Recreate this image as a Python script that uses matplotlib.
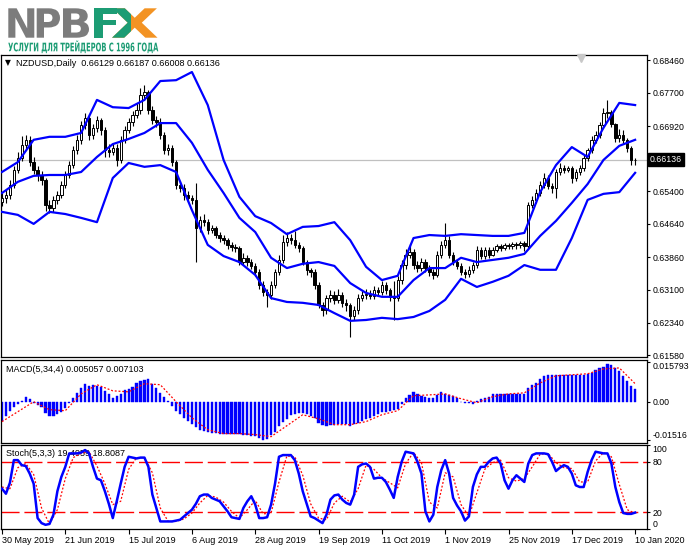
import numpy as np
import matplotlib.pyplot as plt
from matplotlib import transforms
from matplotlib.textpath import TextPath
from matplotlib.patches import PathPatch, Rectangle
from matplotlib.font_manager import FontProperties

plt.rcParams['font.family'] = ['Liberation Sans', 'DejaVu Sans']

# --- NZDUSD daily candles, prices in pips (x 1e-4) ---
open_pips = [6515, 6524, 6531, 6555, 6590, 6618, 6648, 6660, 6608, 6590,
             6578, 6566, 6508, 6501, 6520, 6531, 6555, 6578, 6601, 6636,
             6660, 6694, 6711, 6671, 6687, 6706, 6683, 6636, 6632, 6641,
             6613, 6660, 6683, 6701, 6718, 6729, 6764, 6771, 6729, 6706,
             6701, 6671, 6636, 6641, 6608, 6555, 6548, 6531, 6524, 6520,
             6454, 6473, 6468, 6450, 6454, 6438, 6431, 6426, 6415, 6410,
             6408, 6375, 6384, 6375, 6366, 6352, 6322, 6305, 6298, 6322,
             6352, 6380, 6422, 6431, 6426, 6415, 6408, 6375, 6356, 6352,
             6322, 6275, 6263, 6291, 6298, 6287, 6298, 6280, 6275, 6249,
             6263, 6291, 6298, 6301, 6296, 6310, 6305, 6322, 6310, 6294,
             6291, 6333, 6368, 6392, 6398, 6368, 6361, 6375, 6361, 6352,
             6345, 6392, 6415, 6426, 6392, 6375, 6366, 6352, 6347, 6356,
             6368, 6403, 6389, 6403, 6392, 6403, 6412, 6408, 6415, 6412,
             6417, 6415, 6419, 6412, 6508, 6520, 6536, 6555, 6571, 6552,
             6548, 6585, 6594, 6590, 6594, 6571, 6585, 6594, 6618, 6636,
             6660, 6671, 6694, 6722, 6725, 6697, 6664, 6671, 6660, 6641,
             6612.9]
high_pips = [6535, 6545, 6566, 6600, 6632, 6668, 6672, 6668, 6620, 6600,
             6588, 6572, 6520, 6528, 6540, 6565, 6588, 6610, 6645, 6672,
             6705, 6722, 6720, 6698, 6716, 6712, 6690, 6650, 6652, 6650,
             6668, 6692, 6712, 6728, 6745, 6780, 6788, 6776, 6738, 6715,
             6710, 6678, 6650, 6648, 6612, 6565, 6556, 6540, 6532, 6559,
             6482, 6488, 6476, 6462, 6460, 6445, 6438, 6432, 6422, 6418,
             6412, 6395, 6392, 6382, 6372, 6358, 6330, 6312, 6330, 6360,
             6392, 6438, 6445, 6440, 6448, 6422, 6412, 6380, 6362, 6358,
             6328, 6282, 6298, 6310, 6308, 6312, 6305, 6288, 6280, 6272,
             6300, 6308, 6312, 6310, 6320, 6318, 6330, 6328, 6315, 6330,
             6342, 6380, 6405, 6418, 6405, 6378, 6385, 6382, 6368, 6360,
             6400, 6425, 6466, 6435, 6398, 6382, 6372, 6360, 6365, 6375,
             6412, 6410, 6410, 6410, 6410, 6418, 6418, 6420, 6420, 6422,
             6422, 6425, 6425, 6515, 6530, 6545, 6565, 6582, 6578, 6560,
             6592, 6605, 6602, 6600, 6600, 6592, 6602, 6625, 6642, 6668,
             6680, 6702, 6735, 6753, 6730, 6700, 6685, 6682, 6665, 6645,
             6618.7]
low_pips = [6505, 6512, 6522, 6548, 6582, 6610, 6638, 6598, 6580, 6565,
            6555, 6494, 6490, 6492, 6510, 6525, 6548, 6570, 6595, 6628,
            6650, 6685, 6660, 6662, 6678, 6672, 6620, 6620, 6625, 6600,
            6605, 6652, 6675, 6692, 6710, 6720, 6752, 6720, 6698, 6690,
            6662, 6628, 6625, 6598, 6545, 6538, 6520, 6515, 6510, 6375,
            6445, 6458, 6440, 6442, 6430, 6422, 6418, 6405, 6400, 6398,
            6368, 6368, 6365, 6358, 6342, 6312, 6295, 6270, 6290, 6315,
            6345, 6372, 6412, 6418, 6408, 6398, 6368, 6345, 6340, 6312,
            6268, 6250, 6255, 6282, 6278, 6280, 6270, 6262, 6200, 6240,
            6255, 6285, 6290, 6288, 6290, 6298, 6298, 6300, 6285, 6240,
            6285, 6325, 6360, 6385, 6360, 6352, 6355, 6352, 6342, 6335,
            6340, 6385, 6408, 6385, 6368, 6358, 6345, 6338, 6340, 6350,
            6362, 6382, 6382, 6385, 6388, 6398, 6400, 6402, 6405, 6406,
            6405, 6408, 6400, 6408, 6500, 6512, 6530, 6548, 6545, 6535,
            6525, 6578, 6582, 6584, 6560, 6565, 6578, 6588, 6610, 6630,
            6652, 6665, 6688, 6712, 6690, 6655, 6655, 6650, 6632, 6601,
            6600.8]
close_pips = [6524, 6531, 6555, 6590, 6618, 6648, 6660, 6608, 6590, 6578,
              6566, 6508, 6501, 6520, 6531, 6555, 6578, 6601, 6636, 6660,
              6694, 6711, 6671, 6687, 6706, 6683, 6636, 6632, 6641, 6613,
              6660, 6683, 6701, 6718, 6729, 6764, 6771, 6729, 6706, 6701,
              6671, 6636, 6641, 6608, 6555, 6548, 6531, 6524, 6520, 6454,
              6473, 6468, 6450, 6454, 6438, 6431, 6426, 6415, 6410, 6408,
              6375, 6384, 6375, 6366, 6352, 6322, 6305, 6298, 6322, 6352,
              6380, 6422, 6431, 6426, 6415, 6408, 6375, 6356, 6352, 6322,
              6275, 6263, 6291, 6298, 6287, 6298, 6280, 6275, 6249, 6263,
              6291, 6298, 6301, 6296, 6310, 6305, 6322, 6310, 6294, 6291,
              6333, 6368, 6392, 6398, 6368, 6361, 6375, 6361, 6352, 6345,
              6392, 6415, 6426, 6392, 6375, 6366, 6352, 6347, 6356, 6368,
              6403, 6389, 6403, 6392, 6403, 6412, 6408, 6415, 6412, 6417,
              6415, 6419, 6412, 6508, 6520, 6536, 6555, 6571, 6552, 6548,
              6585, 6594, 6590, 6594, 6571, 6585, 6594, 6618, 6636, 6660,
              6671, 6694, 6722, 6725, 6697, 6664, 6671, 6660, 6641, 6613,
              6613.6]

# Bollinger bands, read every 4th bar (pips)
band_step = 4
bb_upper = [6585, 6608, 6660, 6667, 6667, 6676, 6753, 6736, 6734, 6753,
            6797, 6799, 6818, 6741, 6613, 6527, 6482, 6466, 6440, 6457,
            6459, 6468, 6426, 6364, 6333, 6343, 6431, 6438, 6436, 6440,
            6438, 6436, 6436, 6443, 6538, 6601, 6643, 6620, 6688, 6746, 6741]
bb_mid = [6536, 6562, 6576, 6578, 6578, 6585, 6620, 6650, 6662, 6676,
          6699, 6699, 6653, 6590, 6536, 6478, 6445, 6385, 6361, 6371,
          6375, 6366, 6326, 6303, 6294, 6294, 6333, 6361, 6361, 6385,
          6375, 6380, 6385, 6394, 6436, 6471, 6513, 6557, 6613, 6646, 6660]
bb_lower = [6492, 6485, 6464, 6492, 6487, 6478, 6468, 6571, 6606, 6597,
            6601, 6585, 6496, 6415, 6389, 6375, 6345, 6291, 6282, 6280,
            6275, 6256, 6238, 6240, 6245, 6242, 6247, 6261, 6287, 6336,
            6317, 6329, 6343, 6368, 6357, 6357, 6431, 6520, 6534, 6538, 6583]

# MACD(5,34,4) histogram (x 1e-4) and signal read every 4th bar
macd_hist = [-74, -55, -35, -20, -8, 4, 20, 12, -4, -12,
             -20, -43, -55, -55, -47, -39, -24, -4, 16, 35,
             55, 71, 63, 67, 63, 59, 43, 31, 16, 24,
             31, 47, 51, 59, 74, 82, 86, 90, 71, 55,
             35, 20, 4, -16, -35, -47, -63, -74, -86, -98,
             -110, -114, -118, -122, -122, -125, -125, -125, -125, -125,
             -125, -129, -129, -133, -133, -141, -149, -145, -129, -118,
             -94, -78, -67, -51, -47, -43, -43, -47, -55, -63,
             -82, -90, -94, -90, -90, -86, -86, -86, -94, -86,
             -82, -74, -67, -63, -55, -47, -39, -39, -35, -31,
             -27, -8, 16, 27, 39, 31, 24, 20, 16, 16,
             27, 39, 31, 27, 24, 16, 0, -4, -4, -8,
             4, 12, 16, 20, 31, 31, 31, 31, 31, 31,
             31, 31, 31, 55, 67, 74, 90, 102, 106, 106,
             106, 106, 106, 106, 106, 106, 106, 106, 110, 114,
             125, 133, 137, 150, 145, 133, 122, 102, 82, 63,
             51]
macd_signal = [-78, -39, 0, -31, -35, 31, 67, 43, 39, 71,
               67, 0, -63, -110, -125, -125, -129, -137, -94, -51,
               -67, -90, -90, -78, -51, -35, 24, 27, 31, 12,
               -4, 20, 31, 35, 74, 102, 106, 110, 129, 133, 71]

# Stochastic(5,3,3): %K every bar, %D every 2nd bar
stoch_k = [48, 42, 55, 82, 82, 76, 75, 66, 54, 13,
           7, 5, 6, 17, 45, 62, 74, 90, 90, 90,
           91, 94, 90, 74, 60, 58, 45, 30, 13, 33,
           54, 74, 86, 85, 84, 85, 85, 74, 41, 25,
           9, 9, 9, 9, 10, 11, 15, 19, 23, 30,
           39, 41, 41, 37, 35, 33, 27, 21, 14, 13,
           12, 25, 33, 39, 29, 13, 13, 14, 29, 54,
           86, 88, 88, 88, 82, 66, 45, 30, 15, 13,
           10, 7, 17, 35, 40, 41, 35, 31, 29, 41,
           74, 77, 78, 74, 60, 61, 61, 56, 47, 37,
           62, 80, 92, 91, 90, 80, 66, 21, 9, 17,
           50, 70, 82, 66, 37, 28, 21, 10, 15, 50,
           65, 74, 74, 80, 84, 85, 78, 58, 48, 58,
           64, 60, 56, 78, 88, 90, 90, 90, 89, 80,
           69, 73, 76, 74, 66, 52, 50, 50, 68, 82,
           92, 91, 90, 90, 78, 50, 32, 19, 18, 18,
           19.5]
stoch_d = [50, 48, 73, 78, 65, 25, 6, 23, 60, 85,
           90, 92, 75, 54, 29, 33, 71, 85, 85, 67,
           25, 9, 9, 12, 19, 31, 40, 38, 32, 21,
           13, 23, 34, 18, 19, 56, 87, 86, 64, 30,
           13, 11, 31, 39, 32, 48, 76, 71, 61, 55,
           49, 78, 91, 79, 32, 25, 67, 62, 29, 15,
           43, 71, 79, 82, 61, 57, 60, 74, 89, 90,
           79, 73, 72, 56, 56, 81, 91, 86, 53, 23,
           18.8]

date_labels = ['30 May 2019', '21 Jun 2019', '15 Jul 2019', '6 Aug 2019',
               '28 Aug 2019', '19 Sep 2019', '11 Oct 2019', '1 Nov 2019',
               '25 Nov 2019', '17 Dec 2019', '10 Jan 2020']
date_step = 16
price_ticks = [0.68460, 0.67700, 0.66920, 0.65400, 0.64640,
               0.63860, 0.63100, 0.62340, 0.61580]
last_price = 0.66136

W, H = 691, 549
BLUE = '#0000ff'
RED = '#ff0000'
GREY = '#7c7c7c'
GREEN = '#1c9c74'
ORANGE = '#f39323'
FS = 6.5
FS_Y = 6.3


def frac(x0, y0, x1, y1):
    return [x0 / W, 1 - y1 / H, (x1 - x0) / W, (y1 - y0) / H]


fig = plt.figure(figsize=(W / 100, H / 100), dpi=100)
fig.patch.set_facecolor('white')

ax = fig.add_axes(frac(1, 55, 647, 357))
ax_m = fig.add_axes(frac(1, 359.5, 647, 442.5), sharex=ax)
ax_s = fig.add_axes(frac(1, 445, 647, 529), sharex=ax)

for a in (ax, ax_m, ax_s):
    for sp in a.spines.values():
        sp.set_color('black')
        sp.set_linewidth(0.9)
    a.yaxis.tick_right()
    a.tick_params(axis='y', length=2.5, width=0.8, pad=1.5, labelsize=FS_Y)
    a.tick_params(axis='x', length=0, labelbottom=False)

# ---------------- price pane ----------------
o = np.array(open_pips) / 1e4
h = np.array(high_pips) / 1e4
lo = np.array(low_pips) / 1e4
c = np.array(close_pips) / 1e4
idx = np.arange(len(c))
up = c >= o

ax.axhline(last_price, color='#c0c0c0', lw=0.9, zorder=1)
ax.vlines(idx, lo, h, color='black', lw=0.8, zorder=2)
ax.bar(idx[up], (c - o)[up], bottom=o[up], width=0.6, color='white',
       edgecolor='black', linewidth=0.7, zorder=3)
ax.bar(idx[~up], (o - c)[~up], bottom=c[~up], width=0.6, color='black',
       edgecolor='black', linewidth=0.7, zorder=3)

bidx = np.arange(len(bb_mid)) * band_step
for band in (bb_upper, bb_mid, bb_lower):
    ax.plot(bidx, np.array(band) / 1e4, color=BLUE, lw=1.6, zorder=4,
            solid_joinstyle='round')

ax.set_xlim(-0.25, 163.0)
ax.set_ylim(0.61537, 0.68577)
ax.set_yticks(price_ticks)
ax.set_yticklabels([f'{v:.5f}' for v in price_ticks])

ytr = transforms.blended_transform_factory(ax.transAxes, ax.transData)
ax.text(1.0045, last_price, f'{last_price:.5f}', transform=ytr, color='white',
        fontsize=FS_Y, va='center', ha='left', clip_on=False,
        bbox=dict(boxstyle='square,pad=0.25', facecolor='black', edgecolor='black'))

ax.text(4 / 646, (357 - 62.5) / 302, '\u25bc', transform=ax.transAxes,
        fontsize=5.5, family='DejaVu Sans', va='center', ha='left', color='black')
ax.text(15 / 646, (357 - 63) / 302,
        'NZDUSD,Daily  0.66129 0.66187 0.66008 0.66136',
        transform=ax.transAxes, fontsize=FS, va='center', ha='left', color='black')
ax.plot([(581 - 1) / 646], [(357 - 57.5) / 302], marker='v', ms=6,
        color='#c8c8c8', transform=ax.transAxes, clip_on=False, zorder=5)

ax.text(350, 0.6386, 'binaryclub.guru', fontsize=15, fontweight='bold',
        color='#5b82d9', alpha=0.8, rotation=8, ha='center', va='center',
        zorder=6)

# ---------------- MACD pane ----------------
ax_m.bar(idx, np.array(macd_hist) / 1e4, width=0.55, color=BLUE,
         edgecolor=BLUE, linewidth=0.3, zorder=2)
sidx = np.arange(len(macd_signal)) * band_step
ax_m.plot(sidx, np.array(macd_signal) / 1e4, color=RED, lw=0.9,
          ls=(0, (1.5, 1.5)), zorder=3)
ax_m.set_ylim(-0.0160, 0.0166)
ax_m.set_yticks([0.015793, 0.0, -0.01516])
ax_m.set_yticklabels(['0.015793', '0.00', '-0.01516'])
tl = ax_m.get_yticklabels()
tl[0].set_va('top')
tl[2].set_va('bottom')
ax_m.text(5 / 646, (442.5 - 369) / 83, 'MACD(5,34,4) 0.005057 0.007103',
          transform=ax_m.transAxes, fontsize=FS, va='center', ha='left',
          color='black', zorder=1)

# ---------------- Stochastic pane ----------------
ax_s.text(5 / 646, (529 - 454) / 84, 'Stoch(5,3,3) 19.4959 18.8087',
          transform=ax_s.transAxes, fontsize=FS, va='center', ha='left',
          color='black', zorder=1)
ax_s.axhline(80, color=RED, lw=1.0, ls=(0, (13, 3.5)), zorder=2)
ax_s.axhline(20, color=RED, lw=1.0, ls=(0, (13, 3.5)), zorder=2)
ax_s.plot(idx, stoch_k, color=BLUE, lw=1.8, zorder=4, solid_joinstyle='round')
didx = np.arange(len(stoch_d)) * 2
ax_s.plot(didx, stoch_d, color=RED, lw=0.9, ls=(0, (1.5, 1.5)), zorder=3)
ax_s.set_ylim(0, 100)
ax_s.set_yticks([100, 80, 20, 0])
ax_s.set_yticklabels(['100', '80', '20', '0'])
tl = ax_s.get_yticklabels()
tl[0].set_va('top')
tl[3].set_va('bottom')

ax_s.set_xticks(np.arange(len(date_labels)) * date_step)
ax_s.set_xticklabels(date_labels, ha='left')
ax_s.tick_params(axis='x', length=3.5, width=0.8, pad=1.5, labelsize=FS,
                 labelbottom=True, direction='out')

# ---------------- logo (squeezed glyph outlines, pixel coords) ----------------
logo_font = FontProperties(family='DejaVu Sans', weight='bold')
cap_h = TextPath((0, 0), 'H', size=100, prop=logo_font).get_extents().height


def logo_text(s, x0, x1, base_y, cap_px, color, clip_x=None):
    tp = TextPath((0, 0), s, size=100, prop=logo_font)
    ext = tp.get_extents()
    tr = (transforms.Affine2D().translate(-ext.x0, 0)
          .scale((x1 - x0) / ext.width, cap_px / cap_h)
          .translate(x0, H - base_y))
    patch = PathPatch(tr.transform_path(tp), facecolor=color, edgecolor='none',
                      transform=transforms.IdentityTransform())
    fig.add_artist(patch)
    if clip_x is not None:
        clip = Rectangle((0, 0), clip_x, H, transform=transforms.IdentityTransform())
        patch.set_clip_path(clip)


logo_text('N', 8.3, 34.3, 37.7, 29.4, GREY)
logo_text('P', 36.7, 60.0, 37.7, 29.4, GREY)
logo_text('B', 63.0, 89.0, 37.7, 29.4, GREY)
logo_text('X', 112.0, 157.5, 37.7, 29.4, ORANGE)
logo_text('X', 112.0, 157.5, 37.7, 29.4, GREEN, clip_x=131)
logo_text('F', 94.0, 117.0, 37.7, 29.4, GREEN)
logo_text('УСЛУГИ ДЛЯ ТРЕЙДЕРОВ С 1996 ГОДА', 8.3, 158.3, 51.3, 8.6, GREEN)

fig.savefig('out.png', dpi=100)
